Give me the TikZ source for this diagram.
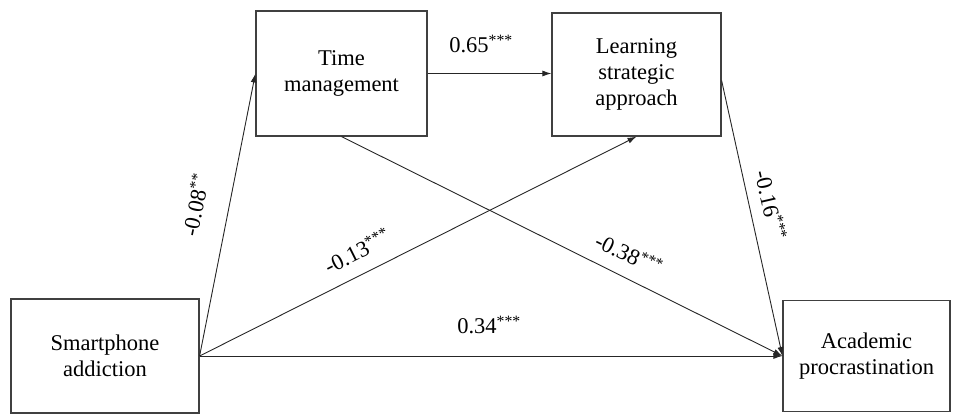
\documentclass[tikz,border=0pt]{standalone}
\usepackage{fontspec}
\setmainfont{Liberation Serif}
\usetikzlibrary{arrows.meta,calc}
\begin{document}
\begin{tikzpicture}[x=1pt,y=-1pt,
  box/.style={draw=black!75,line width=1.2pt,fill=white,align=center,font=\rmfamily\fontsize{22.5}{26}\selectfont,inner sep=0pt},
  conn/.style={draw=black!85,line width=0.9pt,-{Latex[length=9pt,width=6pt]}},
  coef/.style={font=\rmfamily\fontsize{22.5}{26}\selectfont,inner sep=0pt}]
\useasboundingbox (0,0) rectangle (956,414);
\node[box,minimum width=188pt,minimum height=114pt] (sa) at (105,356) {Smartphone\\addiction};
\node[box,minimum width=171pt,minimum height=125pt] (tm) at (341.5,73.5) {Time\\management};
\node[box,minimum width=169pt,minimum height=123pt] (ls) at (636.5,74.5) {Learning\\strategic\\approach};
\node[box,minimum width=167pt,minimum height=111pt] (ap) at (866.5,356) {Academic\\procrastination};
\coordinate (lsr) at ([yshift=-6pt]ls.east);
\draw[conn] (sa.east) -- (tm.west);
\draw[conn] (tm.east) -- (tm.east -| ls.west);
\draw[conn] (sa.east) -- (ls.south);
\draw[conn] (tm.south) -- (ap.west);
\draw[conn] (lsr) -- (ap.west);
\draw[conn] (sa.east) -- (ap.west);
\node[coef] (c65) at (481,44) {0.65\textsuperscript{***}};
\node[coef,rotate=78] (c08) at (195,205) {-0.08\textsuperscript{**}};
\node[coef,rotate=26.6] (c13) at (357,251) {-0.13\textsuperscript{***}};
\node[coef,rotate=-26] (c38) at (629,254) {-0.38\textsuperscript{***}};
\node[coef,rotate=-77] (c16) at (771,205) {-0.16\textsuperscript{***}};
\node[coef] (c34) at (489,325) {0.34\textsuperscript{***}};
\end{tikzpicture}
\end{document}
